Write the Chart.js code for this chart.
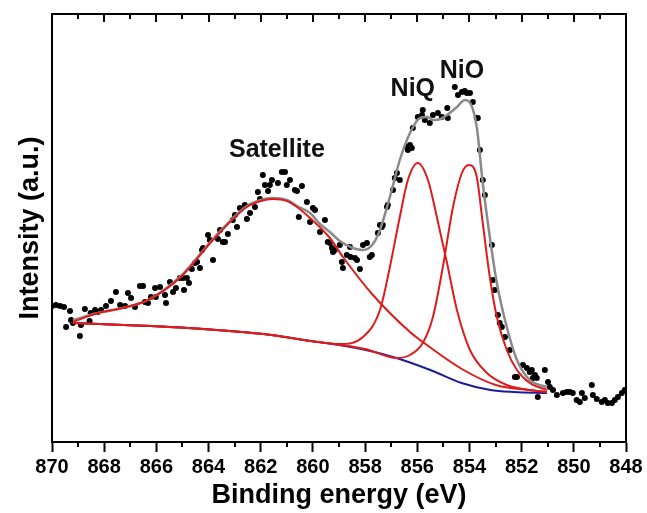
<!DOCTYPE html>
<html>
<head>
<meta charset="utf-8">
<script src="https://cdn.jsdelivr.net/npm/chart.js@4.4.0/dist/chart.umd.min.js"></script>
<style>
  html, body { margin: 0; padding: 0; background: #fff; }
</style>
</head>
<body>
<canvas id="myChart" width="647" height="513"></canvas>
<script>
// measured spectrum (black dots)
const measuredEnergy = [870.00,869.85,869.69,869.54,869.46,869.31,869.27,869.20,868.93,868.89,868.74,868.56,868.52,868.35,868.24,868.12,867.93,867.74,867.55,867.39,867.20,867.09,866.97,866.82,866.63,866.51,866.44,866.32,866.21,866.05,866.02,865.86,865.67,865.63,865.48,865.36,865.25,865.10,864.98,864.94,864.83,864.75,864.64,864.52,864.44,864.33,864.25,864.21,864.02,863.95,863.83,863.64,863.56,863.45,863.37,863.26,863.07,862.99,862.91,862.80,862.61,862.53,862.41,862.22,862.11,862.03,861.92,861.84,861.72,861.65,861.57,861.34,861.19,861.07,861.00,860.88,860.69,860.61,860.54,860.42,860.23,860.11,860.00,859.92,859.73,859.54,859.43,859.35,859.27,859.23,859.16,858.97,858.89,858.85,858.70,858.58,858.56,858.39,858.31,858.20,858.08,857.93,857.82,857.74,857.51,857.43,857.36,857.32,857.16,857.13,856.93,856.86,856.78,856.67,856.40,856.36,856.28,856.21,856.17,855.98,855.82,855.79,855.71,855.52,855.40,855.21,855.06,854.85,854.83,854.56,854.44,854.29,854.18,854.10,853.98,853.87,853.72,853.68,853.60,853.49,853.41,853.14,853.10,853.03,852.91,852.84,852.76,852.64,852.45,852.26,852.18,851.95,851.80,851.69,851.61,851.57,851.49,851.42,851.38,851.11,850.99,850.92,850.80,850.65,850.42,850.27,850.15,850.04,849.89,849.77,849.69,849.58,849.31,849.27,849.12,848.93,848.81,848.70,848.54,848.43,848.31,848.16,848.05];
const measuredIntensity = [136,137,136,135,115,131,122,119,106,117,133,121,129,132,130,132,136,141,150,137,136,149,144,135,156,156,140,139,145,154,145,155,147,139,160,150,154,164,164,152,164,159,173,179,180,174,192,194,207,202,182,203,212,200,200,208,222,227,215,234,237,223,229,235,250,243,267,257,251,257,262,259,270,270,257,262,252,251,225,256,240,220,234,232,210,222,200,199,194,190,192,197,180,174,187,195,185,184,182,173,197,199,185,187,209,217,215,217,235,237,252,264,269,262,295,292,297,294,314,325,327,332,322,319,327,329,325,334,324,355,347,350,351,349,349,340,324,324,292,262,247,197,162,152,127,119,115,105,92,65,65,77,74,70,72,64,67,64,45,72,60,55,52,47,49,50,50,49,42,40,49,44,57,47,43,40,42,39,39,42,45,49,52];

// fitted envelope (grey)
const envelopeEnergy = [869.20,868.24,867.30,866.32,865.06,863.83,862.53,862.00,861.54,861.00,860.61,860.11,859.73,859.35,858.97,858.47,858.08,857.70,857.43,857.05,856.67,856.28,855.90,855.60,855.40,855.10,854.86,854.48,854.18,853.95,853.72,853.49,853.22,852.95,852.57,852.18,851.69,851.03];
const envelopeIntensity = [122,129,134,142,166,203,236,242,244,242,236,229,218,210,201,194,192,198,212,245,282,309,324,325,322,323,327,335,342,338,315,259,205,159,115,82,62,55];

// background (blue)
const backgroundEnergy = [869.20,868.16,866.25,864.79,863.20,861.60,860.10,859.00,857.80,856.80,855.50,854.30,853.20,852.30,851.03];
const backgroundIntensity = [119,118,116,114,111,107,101,97,91,84,72,59,52,50,49];

// satellite component (red)
const satelliteEnergy = [869.20,868.24,867.30,866.32,865.06,863.83,862.53,862.00,861.54,861.00,860.61,860.11,859.35,858.85,857.70,856.28,855.79,854.29,852.99,851.72,851.03];
const satelliteIntensity = [120,129,134,142,165,202,235,241,243,241,235,224,204,185,147,110,100,73,57,52,50];

// NiQ component (red)
const niqEnergy = [869.20,864.79,861.60,860.10,858.97,858.08,857.43,857.05,856.67,856.36,855.98,855.59,855.25,854.86,854.48,853.98,853.33,852.57,851.69,851.03];
const niqIntensity = [119,114,107,101,98,105,132,175,225,262,279,262,225,179,132,92,69,57,52,50];

// NiO component (red)
const nioEnergy = [869.20,864.79,861.60,860.10,858.00,856.78,856.28,855.79,855.40,855.02,854.63,854.29,854.02,853.72,853.49,853.22,852.95,852.57,852.18,851.69,851.03];
const nioIntensity = [119,114,107,101,93,84,87,99,125,175,235,269,277,265,219,165,125,92,72,59,52];

// peak labels
const peakNames = ['Satellite', 'NiQ', 'NiO'];
const peakEnergy = [861.38, 856.17, 854.29];
const peakIntensity = [292, 353, 371];

const xTicks = [870, 868, 866, 864, 862, 860, 858, 856, 854, 852, 850, 848];

const FONT = "'Liberation Sans', Arial, sans-serif";

function pairs(xs, ys) {
  return xs.map((x, i) => ({ x: x, y: ys[i] }));
}

function curve(label, xs, ys, color, width, order) {
  return {
    label: label,
    data: pairs(xs, ys),
    showLine: true,
    borderColor: color,
    borderWidth: width,
    pointRadius: 0,
    cubicInterpolationMode: 'monotone',
    fill: false,
    order: order
  };
}

// box, minor ticks and top ticks
const framePlugin = {
  id: 'frame',
  afterDraw(chart) {
    const ctx = chart.ctx;
    const a = chart.chartArea;
    const xs = chart.scales.x;
    ctx.save();
    ctx.strokeStyle = '#000';
    ctx.lineWidth = 2;
    ctx.beginPath();
    ctx.moveTo(a.left, a.top);
    ctx.lineTo(a.right, a.top);
    ctx.lineTo(a.right, a.bottom);
    ctx.stroke();
    for (let v = 848; v <= 870; v++) {
      const px = Math.round(xs.getPixelForValue(v));
      const major = v % 2 === 0;
      ctx.beginPath();
      if (!major) {
        ctx.moveTo(px, a.bottom);
        ctx.lineTo(px, a.bottom + 5);
      }
      ctx.moveTo(px, a.top);
      ctx.lineTo(px, a.top + (major ? 8 : 5));
      ctx.stroke();
    }
    ctx.restore();
  }
};

const labelPlugin = {
  id: 'peakLabels',
  afterDatasetsDraw(chart) {
    const ctx = chart.ctx;
    ctx.save();
    ctx.fillStyle = '#111';
    ctx.font = 'bold 25px ' + FONT;
    ctx.textAlign = 'center';
    ctx.textBaseline = 'middle';
    peakNames.forEach((name, i) => {
      ctx.fillText(name, chart.scales.x.getPixelForValue(peakEnergy[i]), chart.scales.y.getPixelForValue(peakIntensity[i]));
    });
    ctx.restore();
  }
};

const ctx = document.getElementById('myChart').getContext('2d');
const myChart = new Chart(ctx, {
  type: 'scatter',
  data: {
    datasets: [
      curve('Satellite', satelliteEnergy, satelliteIntensity, '#dd1c1c', 2, 0),
      curve('NiQ', niqEnergy, niqIntensity, '#dd1c1c', 2, 0),
      curve('NiO', nioEnergy, nioIntensity, '#dd1c1c', 2, 0),
      curve('Background', backgroundEnergy, backgroundIntensity, '#1c1c9c', 2, 1),
      curve('Envelope', envelopeEnergy, envelopeIntensity, '#8a8a8a', 2.5, 2),
      {
        label: 'Measured',
        data: pairs(measuredEnergy, measuredIntensity),
        showLine: false,
        pointRadius: 3,
        pointBackgroundColor: '#000',
        pointBorderWidth: 0,
        order: 3
      }
    ]
  },
  options: {
    responsive: false,
    animation: false,
    events: [],
    layout: { padding: { top: 14, right: 21, bottom: 0, left: 0 } },
    plugins: {
      legend: { display: false },
      tooltip: { enabled: false }
    },
    scales: {
      x: {
        type: 'linear',
        reverse: true,
        min: 848,
        max: 870,
        border: { display: true, color: '#000', width: 2 },
        grid: {
          display: true,
          drawOnChartArea: false,
          drawTicks: true,
          tickLength: 10,
          tickWidth: 2,
          color: '#000',
          tickColor: c => (c.tick && xTicks.includes(c.tick.value)) ? '#000' : 'rgba(0,0,0,0)'
        },
        ticks: {
          stepSize: 1,
          autoSkip: false,
          maxRotation: 0,
          padding: 3,
          color: '#000',
          font: { family: FONT, size: 20, weight: 'bold' },
          callback: v => xTicks.includes(v) ? String(v) : ''
        },
        title: {
          display: true,
          text: 'Binding energy (eV)',
          color: '#000',
          font: { family: FONT, size: 27, weight: 'bold' },
          padding: { top: 0, bottom: 1 }
        },
        afterFit: s => { s.height = 71; }
      },
      y: {
        min: 0,
        max: 428,
        border: { display: true, color: '#000', width: 2 },
        grid: { display: false },
        ticks: { display: false },
        title: {
          display: true,
          text: 'Intensity (a.u.)',
          color: '#000',
          font: { family: FONT, size: 27, weight: 'bold' },
          padding: { top: 14, bottom: 0 }
        },
        afterFit: s => { s.width = 52; }
      }
    }
  },
  plugins: [framePlugin, labelPlugin]
});
</script>
</body>
</html>
